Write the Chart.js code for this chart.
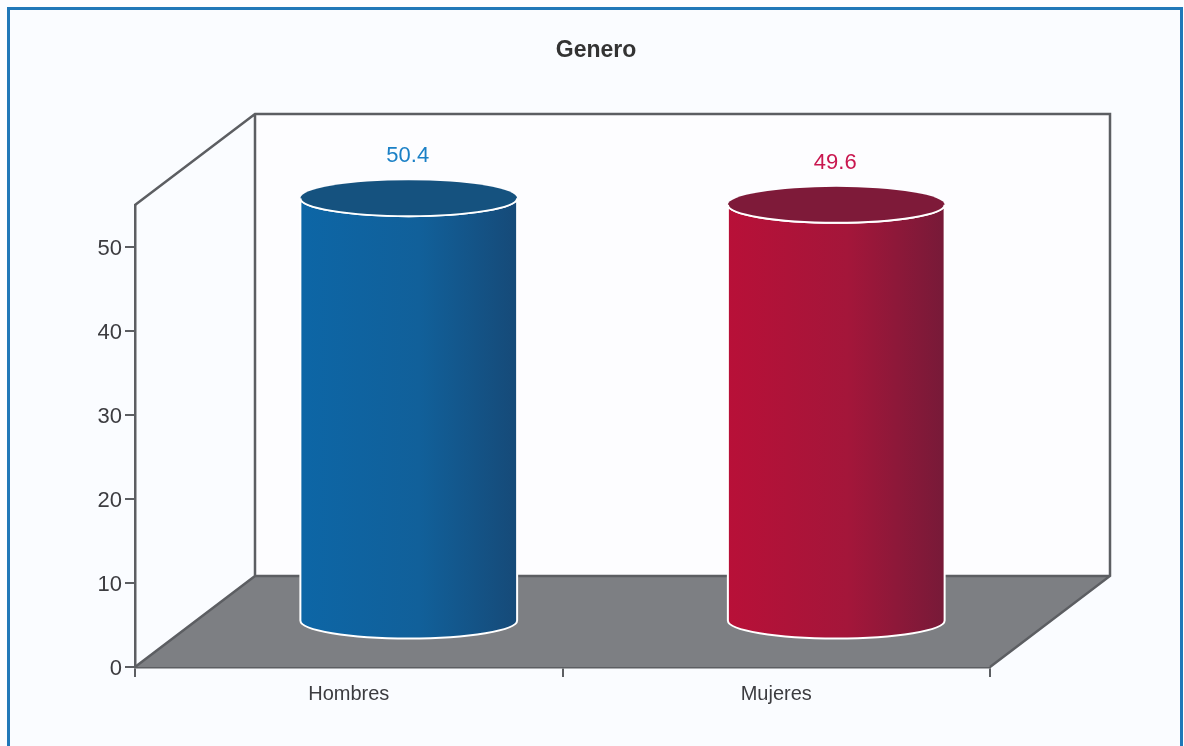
<!DOCTYPE html>
<html><head><meta charset="utf-8">
<style>
html,body{margin:0;padding:0;background:#fbfdff;width:1184px;height:746px;overflow:hidden}
#frame{position:absolute;left:7px;top:7px;width:1170px;height:745px;border:3px solid #1f78b8;background:#fafcff}
#wrap{position:absolute;left:0;top:0;width:1184px;height:746px}
</style>
<script src="https://cdn.jsdelivr.net/npm/chart.js@4"></script>
</head><body>
<div id="frame"></div>
<div id="wrap"><canvas id="c" width="1184" height="746"></canvas></div>
<script>
const categories = ['Hombres', 'Mujeres'];
const values = [50.4, 49.6];
const yTicks = [0, 10, 20, 30, 40, 50];
const chartTitle = 'Genero';
const barColors = ['#11609a', '#a4163a'];
const sideLeft = ['#0d66a6', '#b81038'];
const sideRight = ['#164a78', '#771a38'];
const capColors = ['#15527f', '#7e1a39'];
const labelColors = ['#1b80c6', '#c9174f'];

const depthX = 120, depthY = 91;
const ELL = 18;
const FONT = '"Liberation Sans", Arial, sans-serif';

// Each bar is drawn as a cylinder halfway into the 3D box, from its own element geometry
Chart.BarElement.prototype.draw = function (ctx) {
  const i = this.$context ? this.$context.dataIndex : 0;
  const rx = this.width / 2;
  const cx = this.x + depthX / 2;
  const top = this.y - depthY / 2;
  const bot = this.base - depthY / 2;
  ctx.save();
  const g = ctx.createLinearGradient(cx - rx, 0, cx + rx, 0);
  g.addColorStop(0, sideLeft[i]);
  g.addColorStop(0.55, this.options.backgroundColor);
  g.addColorStop(1, sideRight[i]);
  ctx.beginPath();
  ctx.moveTo(cx - rx, top);
  ctx.lineTo(cx - rx, bot);
  ctx.ellipse(cx, bot, rx, ELL, 0, Math.PI, 0, true);
  ctx.lineTo(cx + rx, top);
  ctx.ellipse(cx, top, rx, ELL, 0, 0, Math.PI, false);
  ctx.closePath();
  ctx.fillStyle = g;
  ctx.fill();
  ctx.strokeStyle = '#ffffff';
  ctx.lineWidth = 2;
  ctx.stroke();
  ctx.beginPath();
  ctx.ellipse(cx, top, rx, ELL, 0, 0, Math.PI * 2);
  ctx.fillStyle = capColors[i];
  ctx.fill();
  ctx.beginPath();
  ctx.ellipse(cx, top, rx, ELL, 0, 0, Math.PI, false);
  ctx.stroke();
  ctx.fillStyle = labelColors[i];
  ctx.font = '22px ' + FONT;
  ctx.textAlign = 'center';
  ctx.textBaseline = 'middle';
  ctx.fillText(String(values[i]), cx - 1, top - 42);
  ctx.restore();
};

const box3d = {
  id: 'box3d',
  afterLayout(chart) {
    // Title is centred on the whole page, not on the plot
    chart.titleBlock.right = 1192;
  },
  beforeDraw(chart) {
    chart.scales.y.getLabelItems().forEach(it => { it.options.translation[1] += 2; });
  },
  beforeDatasetsDraw(chart) {
    const { ctx, scales: { x, y } } = chart;
    const L = x.left, R = x.right, B = y.bottom, T = y.top;
    ctx.save();
    ctx.fillStyle = '#fdfdff';
    ctx.fillRect(L + depthX, T - depthY, R - L, B - T);
    ctx.beginPath();
    ctx.moveTo(L, B);
    ctx.lineTo(L + depthX, B - depthY);
    ctx.lineTo(R + depthX, B - depthY);
    ctx.lineTo(R, B);
    ctx.closePath();
    ctx.fillStyle = '#7d7f83';
    ctx.fill();
    ctx.strokeStyle = '#5c5e62';
    ctx.lineWidth = 2.5;
    ctx.beginPath();
    ctx.moveTo(L, T);
    ctx.lineTo(L + depthX, T - depthY);
    ctx.lineTo(R + depthX, T - depthY);
    ctx.lineTo(R + depthX, B - depthY);
    ctx.lineTo(R, B);
    ctx.moveTo(L + depthX, T - depthY);
    ctx.lineTo(L + depthX, B - depthY);
    ctx.lineTo(R + depthX, B - depthY);
    ctx.moveTo(L + depthX, B - depthY);
    ctx.lineTo(L, B);
    ctx.stroke();
    ctx.restore();
  }
};

new Chart(document.getElementById('c'), {
  type: 'bar',
  data: {
    labels: categories,
    datasets: [{ data: values, backgroundColor: barColors, categoryPercentage: 1, barPercentage: 0.507, clip: false }]
  },
  options: {
    responsive: false,
    animation: false,
    layout: { padding: { left: 0, right: 194, top: 0, bottom: 0 } },
    plugins: {
      legend: { display: false },
      tooltip: { enabled: false },
      title: {
        display: true, text: chartTitle, color: '#333333',
        font: { family: FONT, size: 23, weight: 'bold' },
        padding: { top: 37, bottom: 140.4 }
      }
    },
    scales: {
      x: {
        type: 'category',
        offset: true,
        afterFit(s) { s.height = 79; },
        border: { display: true, color: '#5c5e62', width: 2.5 },
        grid: { offset: true, drawOnChartArea: false, drawTicks: true, tickLength: 10, color: '#5c5e62', lineWidth: 2 },
        ticks: { color: '#3c3c40', font: { family: FONT, size: 20 }, padding: 5, maxRotation: 0 }
      },
      y: {
        type: 'linear',
        min: 0, max: 55,
        afterFit(s) { s.width = 135; },
        afterBuildTicks(s) { s.ticks = yTicks.map(v => ({ value: v })); },
        border: { display: true, color: '#5c5e62', width: 2.5 },
        grid: { drawOnChartArea: false, drawTicks: true, tickLength: 10, color: '#5c5e62', lineWidth: 2 },
        ticks: { color: '#3c3c40', font: { family: FONT, size: 22 }, padding: 3 }
      }
    }
  },
  plugins: [box3d]
});
</script>
</body></html>
